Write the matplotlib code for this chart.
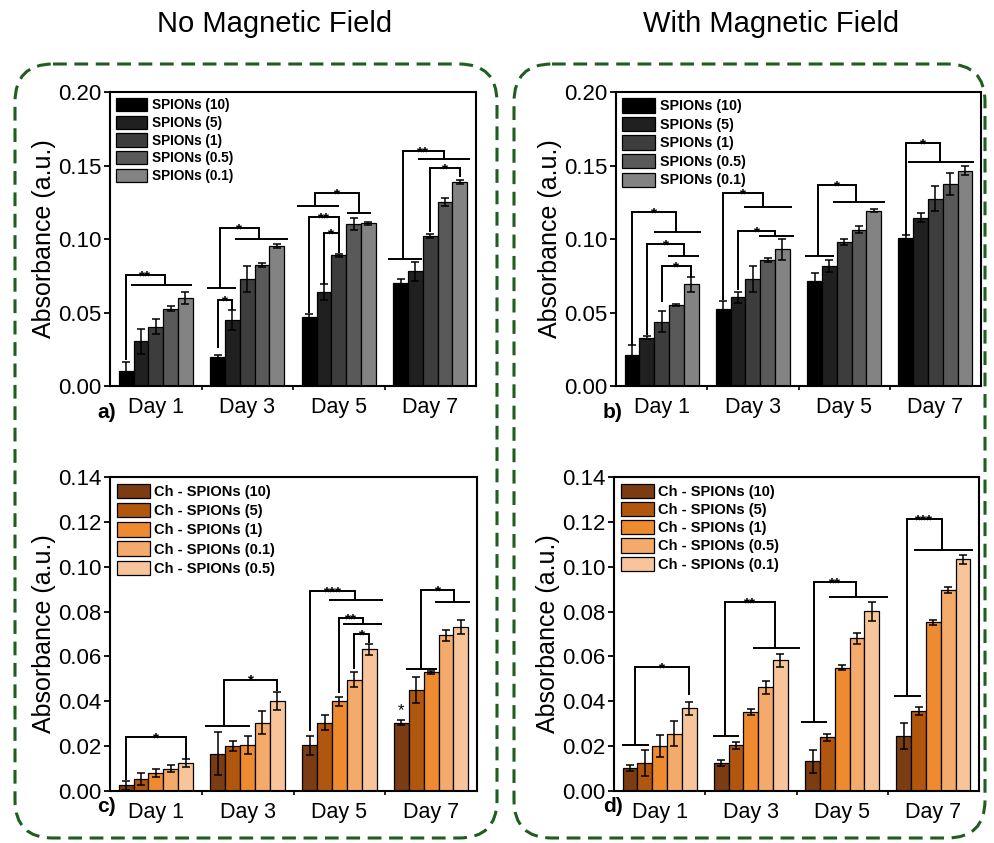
import numpy as np
import matplotlib
matplotlib.use("Agg")
import matplotlib.pyplot as plt
from matplotlib.patches import FancyBboxPatch

plt.rcParams['font.family'] = ['Liberation Sans', 'DejaVu Sans']

days = ["Day 1", "Day 3", "Day 5", "Day 7"]

spion_labels = ["SPIONs (10)", "SPIONs (5)", "SPIONs (1)", "SPIONs (0.5)", "SPIONs (0.1)"]
ch_labels_c = ["Ch - SPIONs (10)", "Ch - SPIONs (5)", "Ch - SPIONs (1)", "Ch - SPIONs (0.1)", "Ch - SPIONs (0.5)"]
ch_labels_d = ["Ch - SPIONs (10)", "Ch - SPIONs (5)", "Ch - SPIONs (1)", "Ch - SPIONs (0.5)", "Ch - SPIONs (0.1)"]

gray_colors = ["#000000", "#202020", "#3d3d3d", "#595959", "#838383"]
orange_colors = ["#7a3c10", "#b1560f", "#ee8a30", "#f4aa6a", "#f8c59a"]

# panel a: no field, SPIONs
a_mean = [[0.0102, 0.0197, 0.0472, 0.0700],
          [0.0306, 0.0449, 0.0639, 0.0780],
          [0.0403, 0.0728, 0.0889, 0.1020],
          [0.0526, 0.0823, 0.1100, 0.1250],
          [0.0600, 0.0952, 0.1107, 0.1390]]
a_err = [[0.0060, 0.0015, 0.0015, 0.0030],
         [0.0085, 0.0070, 0.0057, 0.0065],
         [0.0050, 0.0090, 0.0010, 0.0015],
         [0.0015, 0.0015, 0.0040, 0.0027],
         [0.0040, 0.0015, 0.0010, 0.0013]]

# panel b: with field, SPIONs
b_mean = [[0.0209, 0.0522, 0.0717, 0.1009],
          [0.0329, 0.0603, 0.0816, 0.1145],
          [0.0438, 0.0728, 0.0980, 0.1274],
          [0.0551, 0.0855, 0.1063, 0.1376],
          [0.0692, 0.0930, 0.1193, 0.1465]]
b_err = [[0.0070, 0.0055, 0.0055, 0.0016],
         [0.0010, 0.0035, 0.0040, 0.0030],
         [0.0070, 0.0090, 0.0020, 0.0086],
         [0.0007, 0.0014, 0.0025, 0.0075],
         [0.0050, 0.0070, 0.0010, 0.0030]]

# panel c: no field, Ch - SPIONs
c_mean = [[0.0025, 0.0167, 0.0204, 0.0305],
          [0.0055, 0.0200, 0.0305, 0.0450],
          [0.0080, 0.0204, 0.0400, 0.0529],
          [0.0100, 0.0305, 0.0497, 0.0695],
          [0.0125, 0.0402, 0.0631, 0.0731]]
c_err = [[0.0020, 0.0097, 0.0043, 0.0010],
         [0.0027, 0.0022, 0.0033, 0.0058],
         [0.0017, 0.0039, 0.0020, 0.0006],
         [0.0015, 0.0052, 0.0035, 0.0025],
         [0.0018, 0.0040, 0.0024, 0.0031]]

# panel d: with field, Ch - SPIONs
d_mean = [[0.0102, 0.0125, 0.0132, 0.0245],
          [0.0125, 0.0203, 0.0239, 0.0358],
          [0.0200, 0.0352, 0.0550, 0.0752],
          [0.0256, 0.0462, 0.0680, 0.0896],
          [0.0368, 0.0583, 0.0802, 0.1033]]
d_err = [[0.0015, 0.0015, 0.0050, 0.0057],
         [0.0057, 0.0015, 0.0014, 0.0018],
         [0.0050, 0.0012, 0.0010, 0.0012],
         [0.0055, 0.0030, 0.0024, 0.0015],
         [0.0029, 0.0029, 0.0042, 0.0020]]

# significance brackets: (day, left side, right side, top y, text)
# side = (bar index, y end) or (bar index, y end, span from, span to)
a_brackets = [(0, (0, 0.0177), (2.6, 0.0685, 0.3, 4.45), 0.0755, "**"),
              (1, (0.16, 0.0669, -0.72, 1.24), (2.78, 0.0998, 1.17, 4.74), 0.1077, "*"),
              (1, (0, 0.0256), (1, 0.052), 0.0585, "*"),
              (2, (0.43, 0.1224, -0.81, 1.99), (3.36, 0.1179, 2.57, 4.15), 0.131, "*"),
              (2, (0, 0.0494), (2, 0.0902), 0.1152, "**"),
              (2, (1, 0.0694), (2, 0.0902), 0.1039, "*"),
              (3, (0.14, 0.0866, -0.84, 1.42), (2.93, 0.1544, 1.15, 4.7), 0.1599, "**"),
              (3, (2, 0.105), (4, 0.1424), 0.148, "*")]
b_brackets = [(0, (0, 0.0279), (2.98, 0.1045, 1.47, 4.67), 0.1186, "*"),
              (0, (1, 0.0347), (3.54, 0.0887, 2.42, 4.56), 0.0966, "*"),
              (0, (2, 0.0574), (4, 0.0744), 0.0819, "*"),
              (1, (0, 0.0585), (2.7, 0.1215, 1.38, 4.65), 0.1315, "*"),
              (1, (1, 0.0653), (3.52, 0.1023, 2.44, 4.8), 0.1054, "*"),
              (2, (0.2, 0.0884, -0.63, 1.29), (2.82, 0.125, 1.24, 4.74), 0.1367, "*"),
              (3, (0, 0.1027), (2.33, 0.1524, 0.18, 4.58), 0.165, "*")]
c_brackets = [(0, (0, 0.0048), (4, 0.0144), 0.0241, "*"),
              (1, (0.4, 0.0289, -0.85, 2.13), (4, 0.0447), 0.0497, "*"),
              (2, (0, 0.0268), (3.08, 0.0852, 1.3, 4.94), 0.0893, "***"),
              (2, (2, 0.0438), (3.6, 0.0744, 2.22, 4.87), 0.077, "**"),
              (2, (3, 0.0542), (4, 0.0661), 0.0698, "*"),
              (3, (1.33, 0.0546, 0.31, 2.4), (3.53, 0.0841, 2.29, 4.61), 0.0896, "*")]
d_brackets = [(0, (0.31, 0.0203, -0.52, 1.28), (4, 0.0426), 0.0553, "*"),
              (1, (0.27, 0.0245, -0.58, 1.21), (3.64, 0.0636, 2.16, 5.3), 0.0842, "**"),
              (2, (0.07, 0.0308, -0.79, 1.01), (2.94, 0.0866, 1.12, 5.12), 0.0932, "**"),
              (3, (0.2, 0.0423, -0.65, 1.15), (2.56, 0.1075, 0.72, 4.7), 0.1212, "***")]

W = 0.162  # bar width (group = 5 bars)


def bar_x(day, idx):
    return day + (idx - 2) * W


def draw_side(ax, day, side, y_top):
    x = bar_x(day, side[0])
    ax.plot([x, x], [side[1], y_top], color="black", lw=1.4, solid_capstyle="butt")
    if len(side) == 4:
        ax.plot([bar_x(day, side[2]), bar_x(day, side[3])], [side[1], side[1]],
                color="black", lw=1.4, solid_capstyle="butt")
    return x


def draw_panel(ax, means, errs, labels, colors, ymax, yticks, brackets, leg_size, leg_spacing, leg_h):
    x = np.arange(len(days))
    for i in range(len(labels)):
        ax.bar(x + (i - 2) * W, means[i], W, yerr=errs[i], color=colors[i],
               edgecolor="black", linewidth=0.9, label=labels[i],
               error_kw=dict(elinewidth=1.1, capsize=3, capthick=1.1, ecolor="black"))
    for day, left, right, y_top, txt in brackets:
        xl = draw_side(ax, day, left, y_top)
        xr = draw_side(ax, day, right, y_top)
        ax.plot([xl, xr], [y_top, y_top], color="black", lw=1.4)
        ax.annotate(txt, ((xl + xr) / 2, y_top), xytext=(0, -1), textcoords="offset points",
                    ha="center", va="center", fontsize=11, fontweight="bold")
    ax.set_xlim(-0.5, 3.5)
    ax.set_ylim(0, ymax)
    ax.set_yticks(yticks)
    ax.set_yticklabels(["%.2f" % t for t in yticks])
    ax.set_xticks(x)
    ax.set_xticklabels(days)
    ax.set_xticks(x[:-1] + 0.5, minor=True)
    ax.tick_params(axis="x", which="major", length=0, pad=8, labelsize=15.5)
    ax.tick_params(axis="x", which="minor", length=3, width=1.2, direction="out")
    ax.tick_params(axis="y", length=4, width=1.3, pad=2, labelsize=16)
    for s in ax.spines.values():
        s.set_linewidth(1.5)
    ax.set_ylabel("Absorbance (a.u.)", fontsize=18, labelpad=2)
    ax.legend(loc="upper left", frameon=False, prop=dict(weight="bold", size=leg_size),
              handlelength=2.3, handleheight=leg_h, labelspacing=leg_spacing,
              handletextpad=0.3, borderaxespad=0.25, borderpad=0.2)


fig = plt.figure(figsize=(9.94, 8.43), dpi=100)

bg = fig.add_axes([0, 0, 1, 1], zorder=-5)
bg.set_xlim(0, 994)
bg.set_ylim(843, 0)
bg.axis("off")
for x0, x1 in [(15, 497), (514, 985)]:
    box = FancyBboxPatch((x0, 64), x1 - x0, 774, boxstyle="round,pad=0,rounding_size=38",
                         fill=False, edgecolor="#1e5e1e", linewidth=2.2,
                         linestyle=(0, (4.5, 2.5)))
    bg.add_patch(box)

fig.text(275 / 994, 1 - 24 / 843, "No Magnetic Field", ha="center", va="center", fontsize=21)
fig.text(771 / 994, 1 - 24 / 843, "With Magnetic Field", ha="center", va="center", fontsize=21)


def px_axes(l, r, t, b):
    return fig.add_axes([l / 994, 1 - b / 843, (r - l) / 994, (b - t) / 843])


ax_a = px_axes(110, 476, 92, 386)
ax_b = px_axes(616, 981, 92, 386)
ax_c = px_axes(110, 477, 477, 791)
ax_d = px_axes(614, 979, 477, 791)

yt_top = [0.00, 0.05, 0.10, 0.15, 0.20]
yt_bot = [0.00, 0.02, 0.04, 0.06, 0.08, 0.10, 0.12, 0.14]

draw_panel(ax_a, a_mean, a_err, spion_labels, gray_colors, 0.20, yt_top, a_brackets, 9.8, 0.25, 1.12)
draw_panel(ax_b, b_mean, b_err, spion_labels, gray_colors, 0.20, yt_top, b_brackets, 10.3, 0.25, 1.15)
draw_panel(ax_c, c_mean, c_err, ch_labels_c, orange_colors, 0.14, yt_bot, c_brackets, 10.5, 0.28, 1.15)
draw_panel(ax_d, d_mean, d_err, ch_labels_d, orange_colors, 0.14, yt_bot, d_brackets, 10.5, 0.22, 1.12)

# lone star above day 7, bar 1 in panel c
ax_c.annotate("*", (bar_x(3, 0), c_mean[0][3] + c_err[0][3]), xytext=(0, 7),
              textcoords="offset points", ha="center", va="center", fontsize=12)

for lab, xp, yp in [("a)", 97, 413), ("b)", 603, 413), ("c)", 97, 806), ("d)", 603, 806)]:
    fig.text(xp / 994, 1 - yp / 843, lab, ha="left", va="center", fontsize=15, fontweight="bold")

fig.savefig("out.png", dpi=100)
